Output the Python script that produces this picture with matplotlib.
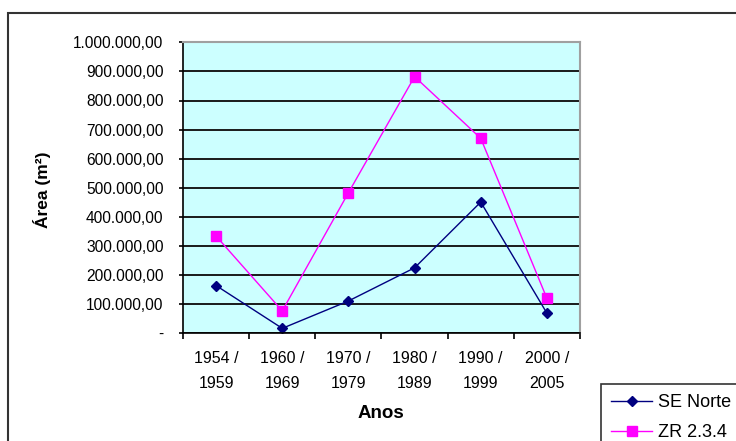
import matplotlib
matplotlib.use("Agg")
from matplotlib import pyplot as plt
from matplotlib.patches import Rectangle
from matplotlib.ticker import FuncFormatter, FixedLocator

plt.rcParams['font.family'] = ['Liberation Sans', 'DejaVu Sans']

# periodos e areas (m2)
periodos = ["1954 /\n1959", "1960 /\n1969", "1970 /\n1979", "1980 /\n1989", "1990 /\n1999", "2000 /\n2005"]
se_norte = [164000, 17000, 111000, 225000, 451000, 69000]
zr_234 = [334000, 77000, 483000, 882000, 670000, 120000]


def fmt_br(v, pos):
    # formato pt-BR: 1.000.000,00 e traco para zero
    if v == 0:
        return "-"
    s = f"{v:,.2f}"
    return s.replace(",", "X").replace(".", ",").replace("X", ".")


fig = plt.figure(figsize=(7.36, 4.41), dpi=100)
ax = fig.add_axes([183 / 736, 1 - 333.3 / 441, 397 / 736, 291 / 441])
ax.set_facecolor("#CCFFFF")

x = list(range(len(periodos)))
ax.plot(x, se_norte, color="#000080", marker="D", markersize=5.5, linewidth=1.0, label="SE Norte")
ax.plot(x, zr_234, color="#FF00FF", marker="s", markersize=6.5, linewidth=1.0, label="ZR 2.3.4")

ax.set_xlim(-0.5, len(periodos) - 0.5)
ax.set_ylim(0, 1000000)
ax.set_yticks(range(0, 1000001, 100000))
ax.yaxis.set_major_formatter(FuncFormatter(fmt_br))
ax.yaxis.grid(True, color="#1a1a1a", linewidth=1.4)
ax.set_axisbelow(True)

ax.set_xticks(x)
ax.set_xticklabels(periodos, linespacing=1.8)
ax.xaxis.set_minor_locator(FixedLocator([i - 0.5 for i in range(len(periodos) + 1)]))
ax.tick_params(axis="x", which="major", length=0, pad=13, labelsize=11.5)
ax.tick_params(axis="x", which="minor", length=4, width=1.2, direction="out", color="black")
ax.tick_params(axis="y", length=3, width=1.2, direction="out", pad=11, labelsize=11.2)

for side in ("left", "bottom"):
    ax.spines[side].set_color("black")
    ax.spines[side].set_linewidth(1.2)
for side in ("top", "right"):
    ax.spines[side].set_color("#a0a0a0")
    ax.spines[side].set_linewidth(1.5)

fig.text(42 / 736, 1 - 190 / 441, "Área (m²)", rotation=90, ha="center", va="center",
         fontsize=12.5, fontweight="bold")
fig.text(381 / 736, 1 - 414 / 441, "Anos", ha="center", va="center", fontsize=13.5, fontweight="bold")

# moldura externa do grafico
fig.patches.append(Rectangle((8 / 736, -0.1), 1.2, 1 - 12.5 / 441 + 0.1, transform=fig.transFigure,
                             fill=False, edgecolor="#333333", linewidth=1.5))

leg = fig.legend(loc="upper left", bbox_to_anchor=(601 / 736, 1 - 384 / 441), borderaxespad=0,
                 fontsize=13, frameon=True, fancybox=False, edgecolor="black", handlelength=2.3,
                 handletextpad=0.3, borderpad=0.55, labelspacing=0.75)
leg.get_frame().set_linewidth(1.2)

fig.savefig("out.png", dpi=100)
